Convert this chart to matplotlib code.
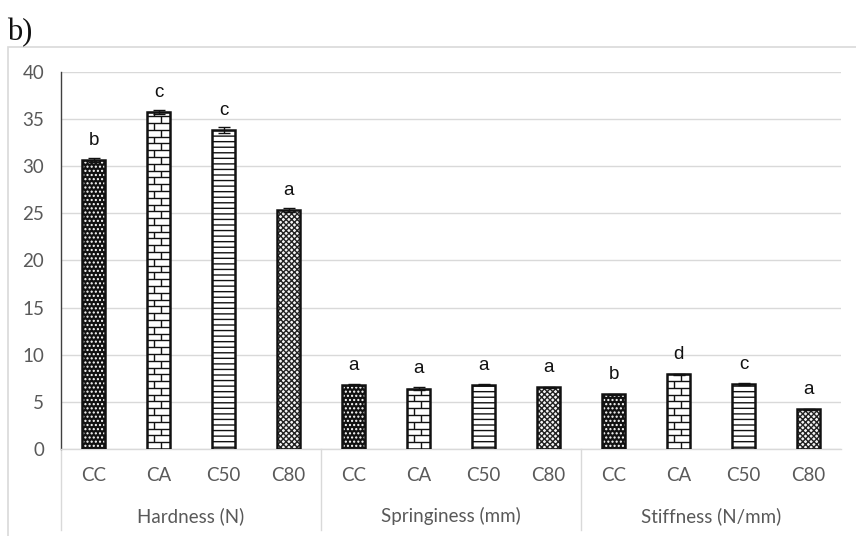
import numpy as np
import matplotlib
matplotlib.use("Agg")
import matplotlib.pyplot as plt
import matplotlib.transforms as mtransforms
from matplotlib.collections import LineCollection
from matplotlib.patches import Rectangle

# ---- data -------------------------------------------------------------
groups = ["Hardness (N)", "Springiness (mm)", "Stiffness (N/mm)"]
samples = ["CC", "CA", "C50", "C80"]

hardness = [30.6, 35.7, 33.8, 25.3]
hardness_err = [0.2, 0.2, 0.35, 0.2]
springiness = [6.8, 6.4, 6.8, 6.55]
springiness_err = [0.05, 0.15, 0.05, 0.05]
stiffness = [5.8, 7.9, 6.9, 4.2]
stiffness_err = [0.05, 0.05, 0.1, 0.05]

hardness_letters = ["b", "c", "c", "a"]
springiness_letters = ["a", "a", "a", "a"]
stiffness_letters = ["b", "d", "c", "a"]

y_ticks = [0, 5, 10, 15, 20, 25, 30, 35, 40]

# ---- style ------------------------------------------------------------
GRAY_TXT = "#595959"
GRID = "#d9d9d9"
TICK_FONT = "Lato"
TICK_SIZE = 13.5
plt.rcParams["hatch.linewidth"] = 1.0

values = hardness + springiness + stiffness
errors = hardness_err + springiness_err + stiffness_err
letters = hardness_letters + springiness_letters + stiffness_letters
labels = samples * len(groups)
x = np.arange(len(values))

W, H = 856, 536
fig = plt.figure(figsize=(W / 100, H / 100), dpi=100)
ax = fig.add_axes([61 / W, 1 - 449 / H, 780 / W, (449 - 71.7) / H])

# outer chart frame
fig.patches.append(Rectangle((8 / W, -0.05), 1.2, (1 - 47 / H) + 0.05,
                             transform=fig.transFigure, fill=False,
                             edgecolor="#d9d9d9", linewidth=1.2, zorder=0))
fig.text(7 / W, 1 - 40 / H, "b)", family="Liberation Serif", fontsize=22,
         ha="left", va="baseline", color="#111111")

ax.set_xlim(-0.5, len(values) - 0.5)
ax.set_ylim(0, 40)
ax.set_yticks(y_ticks)
ax.yaxis.grid(True, color=GRID, linewidth=1.0)
ax.set_axisbelow(True)
for s in ["top", "right"]:
    ax.spines[s].set_visible(False)
ax.spines["left"].set_color("#404040")
ax.spines["left"].set_linewidth(1.0)
ax.spines["bottom"].set_color(GRID)
ax.spines["bottom"].set_linewidth(1.0)
ax.tick_params(axis="y", length=0, pad=12, labelsize=TICK_SIZE, labelcolor=GRAY_TXT)
ax.tick_params(axis="x", length=0, pad=13, labelsize=TICK_SIZE, labelcolor=GRAY_TXT)
ax.set_xticks(x)
ax.set_xticklabels(labels)
for t in ax.get_xticklabels() + ax.get_yticklabels():
    t.set_fontfamily(TICK_FONT)

bw = 0.34
kinds = ["dots", "brick", "lines", "cross"] * len(groups)

for xi, v, kind in zip(x, values, kinds):
    if kind == "dots":
        ax.bar(xi, v, bw, color="#111111", edgecolor="white", hatch="....",
               linewidth=0, zorder=2)
    elif kind == "lines":
        ax.bar(xi, v, bw, color="white", edgecolor="#111111", hatch="---",
               linewidth=0, zorder=2)
    elif kind == "cross":
        ax.bar(xi, v, bw, color="#f4f4f4", edgecolor="#222222", hatch="xxxxxx",
               linewidth=0, zorder=2)
    else:
        bar = ax.bar(xi, v, bw, color="white", linewidth=0, zorder=2)[0]
        # brick courses clipped to the bar
        x0, w = bar.get_x(), bar.get_width()
        row = 0.72
        segs = []
        k = 0
        while k * row < v:
            yb, yt = k * row, min((k + 1) * row, v)
            segs.append([(x0, yt), (x0 + w, yt)])
            fx = 0.6 if k % 2 == 0 else 0.3
            segs.append([(x0 + fx * w, yb), (x0 + fx * w, yt)])
            k += 1
        lc = LineCollection(segs, colors="#111111", linewidths=1.0, zorder=3)
        lc.set_clip_path(bar)
        ax.add_collection(lc)
    # outline
    ax.bar(xi, v, bw, fill=False, edgecolor="#111111", linewidth=1.8, zorder=4)

ax.errorbar(x, values, yerr=errors, fmt="none", ecolor="#111111",
            elinewidth=1.0, capsize=4, capthick=1.0, zorder=5)

for xi, v, lt in zip(x, values, letters):
    ax.text(xi, v + 2.1, lt, ha="center", va="center", fontsize=13.5,
            family="Liberation Sans", color="#111111")

# category group separators and labels below the axis
trans = mtransforms.blended_transform_factory(ax.transData, ax.transAxes)
n = len(samples)
for b in [-0.5] + [g * n - 0.5 for g in range(1, len(groups))]:
    ax.plot([b, b], [0, -0.215], transform=trans, color=GRID, linewidth=1.0,
            clip_on=False, zorder=1)
for g, name in enumerate(groups):
    ax.text(g * n + (n - 1) / 2, -0.177, name, transform=trans, ha="center",
            va="center", fontsize=TICK_SIZE, family=TICK_FONT, color=GRAY_TXT)

fig.savefig("out.png", dpi=100)
